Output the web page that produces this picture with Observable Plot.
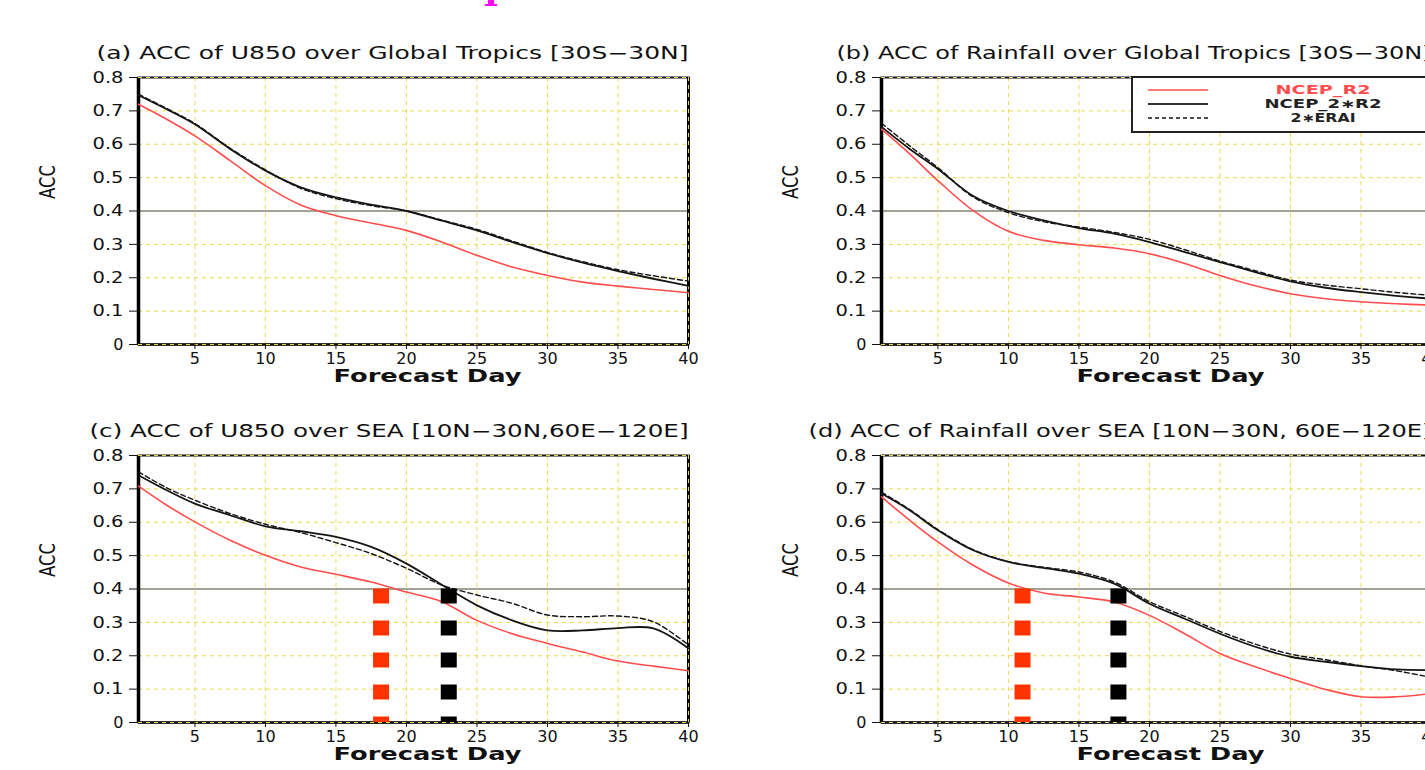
<!DOCTYPE html>
<html><head><meta charset="utf-8">
<script src="https://cdn.jsdelivr.net/npm/d3@7"></script>
<script src="https://cdn.jsdelivr.net/npm/@observablehq/plot@0.6"></script>
<style>
html,body{margin:0;padding:0;background:#fff;width:1425px;height:770px;overflow:hidden;}
#wrap{position:relative;width:1425px;height:770px;overflow:hidden;font-family:"DejaVu Sans",sans-serif;}
#wrap > svg, #wrap > div{position:absolute;}
</style></head><body><div id="wrap"></div>
<script>
// ---- data ----
const days = [1, 3, 5, 7.5, 10, 12.5, 15, 17.5, 20, 22.5, 25, 27.5, 30, 32.5, 35, 37.5, 40];
const seriesNames = ["NCEP_R2", "NCEP_2∗R2", "2∗ERAI"];
const xTicks = [5, 10, 15, 20, 25, 30, 35, 40];
const yTicks = [0, 0.1, 0.2, 0.3, 0.4, 0.5, 0.6, 0.7, 0.8];
const threshold = 0.4;

// (a) U850 global tropics
const aR2   = [0.720, 0.675, 0.625, 0.551, 0.476, 0.418, 0.386, 0.364, 0.342, 0.307, 0.267, 0.232, 0.207, 0.187, 0.175, 0.165, 0.155];
const aN2R2 = [0.747, 0.705, 0.660, 0.586, 0.521, 0.471, 0.441, 0.419, 0.400, 0.371, 0.342, 0.307, 0.274, 0.245, 0.220, 0.197, 0.176];
const aERAI = [0.750, 0.707, 0.662, 0.588, 0.523, 0.468, 0.437, 0.416, 0.400, 0.373, 0.345, 0.310, 0.276, 0.248, 0.224, 0.206, 0.190];
// (b) Rainfall global tropics
const bR2   = [0.645, 0.571, 0.491, 0.401, 0.339, 0.312, 0.299, 0.289, 0.272, 0.243, 0.207, 0.176, 0.152, 0.137, 0.128, 0.122, 0.118];
const bN2R2 = [0.652, 0.586, 0.526, 0.445, 0.400, 0.372, 0.349, 0.332, 0.307, 0.277, 0.247, 0.217, 0.189, 0.170, 0.157, 0.146, 0.137];
const bERAI = [0.663, 0.595, 0.530, 0.442, 0.395, 0.368, 0.352, 0.336, 0.315, 0.284, 0.250, 0.221, 0.193, 0.178, 0.167, 0.156, 0.147];
// (c) U850 SEA
const cR2   = [0.708, 0.651, 0.601, 0.546, 0.501, 0.466, 0.444, 0.421, 0.391, 0.362, 0.306, 0.266, 0.237, 0.211, 0.184, 0.169, 0.155];
const cN2R2 = [0.741, 0.696, 0.656, 0.621, 0.588, 0.573, 0.556, 0.526, 0.476, 0.413, 0.351, 0.306, 0.276, 0.276, 0.283, 0.282, 0.222];
const cERAI = [0.751, 0.703, 0.666, 0.626, 0.594, 0.569, 0.539, 0.506, 0.462, 0.412, 0.382, 0.357, 0.322, 0.317, 0.319, 0.302, 0.232];
// (d) Rainfall SEA
const dR2   = [0.676, 0.606, 0.541, 0.471, 0.418, 0.388, 0.376, 0.361, 0.321, 0.266, 0.207, 0.167, 0.132, 0.099, 0.077, 0.077, 0.087];
const dN2R2 = [0.686, 0.636, 0.576, 0.516, 0.481, 0.463, 0.446, 0.416, 0.356, 0.311, 0.266, 0.227, 0.197, 0.182, 0.169, 0.159, 0.157];
const dERAI = [0.690, 0.638, 0.578, 0.518, 0.482, 0.465, 0.451, 0.421, 0.362, 0.318, 0.273, 0.235, 0.205, 0.188, 0.170, 0.155, 0.135];

// threshold-crossing markers (forecast day)
const cMarkerDays = [18.2, 23];
const dMarkerDays = [11, 17.8];

const titles = [
  "(a) ACC of U850 over Global Tropics [30S−30N]",
  "(b) ACC of Rainfall over Global Tropics [30S−30N]",
  "(c) ACC of U850 over SEA [10N−30N,60E−120E]",
  "(d) ACC of Rainfall over SEA [10N−30N, 60E−120E]"
];

// ---- styles ----
const RED = "#ff4d4d", BLACK = "#151515", MARK_RED = "#ff3300";
const GRID = "#e8da4a";
const wrap = document.getElementById("wrap");

function stretch(p, content, len, adjust) {
  d3.select(p).selectAll("text")
    .filter(function() { return this.textContent === content; })
    .attr("textLength", len).attr("lengthAdjust", adjust || "spacing");
}

function panel({title, r2, n2, erai, markers, left, topPx, height, mb, titleLen}) {
  const rows = [];
  days.forEach((d, i) => {
    rows.push({day: d, acc: r2[i], s: seriesNames[0]});
    rows.push({day: d, acc: n2[i], s: seriesNames[1]});
    rows.push({day: d, acc: erai[i], s: seriesNames[2]});
  });
  const marks = [
    Plot.gridX([...xTicks], {stroke: GRID, strokeOpacity: 1, strokeDasharray: "4,4", strokeWidth: 1}),
    Plot.gridY(yTicks.filter(v => v > 0), {stroke: GRID, strokeOpacity: 1, strokeDasharray: "4,4", strokeWidth: 1}),
    Plot.ruleY([threshold], {stroke: "#a3a394", strokeWidth: 2}),
    Plot.frame({stroke: "#111", strokeWidth: 2}),
    Plot.ruleX([1], {stroke: "#000", strokeWidth: 3.5}),
    Plot.ruleX([40], {stroke: "#000", strokeWidth: 3}),
    Plot.ruleY([0], {stroke: "#111", strokeWidth: 2.5}),
    Plot.gridX([40], {stroke: GRID, strokeOpacity: 1, strokeDasharray: "4,4", strokeWidth: 1}),
    Plot.gridY([0.8, 0], {stroke: GRID, strokeOpacity: 1, strokeDasharray: "4,4", strokeWidth: 1}),
    Plot.line(rows.filter(r => r.s === seriesNames[2]), {x: "day", y: "acc", stroke: BLACK, strokeWidth: 1.4, strokeDasharray: "5,3", curve: "catmull-rom"}),
    Plot.line(rows.filter(r => r.s === seriesNames[1]), {x: "day", y: "acc", stroke: BLACK, strokeWidth: 1.8, curve: "catmull-rom"}),
    Plot.line(rows.filter(r => r.s === seriesNames[0]), {x: "day", y: "acc", stroke: RED, strokeWidth: 1.6, curve: "catmull-rom"}),
  ];
  if (markers) {
    marks.push(Plot.ruleX(markers.map((d, i) => ({day: d, k: i})), {
      x: "day", y1: threshold, y2: 0,
      stroke: d => d.k === 0 ? MARK_RED : "#000", strokeWidth: 16, strokeDasharray: "15,17"
    }));
  }
  marks.push(
    Plot.axisY(yTicks, {anchor: "left", tickSize: 9, tickPadding: 6, fontSize: 16, stroke: "#111",
      tickFormat: v => v === 0 ? "0" : v.toFixed(1), label: null}),
    Plot.axisX(xTicks, {anchor: "bottom", tickSize: 5, tickPadding: 3, fontSize: 16, stroke: "#111", label: null}),
    Plot.text([title], {text: d => d, frameAnchor: "top-right", dy: -24, textAnchor: "end", lineAnchor: "middle", fontSize: 17, fill: "#111"}),
    Plot.text(["Forecast Day"], {text: d => d, frameAnchor: "bottom", dy: 32, dx: 14, lineAnchor: "middle", fontSize: 18, fontWeight: "bold", fill: "#111"}),
    Plot.text(["ACC"], {text: d => d, frameAnchor: "left", dx: -90, dy: -12, rotate: -90, lineAnchor: "middle", fontSize: 21, fill: "#111"})
  );
  const p = Plot.plot({
    width: 712, height,
    marginLeft: 138, marginRight: 24, marginTop: 77, marginBottom: mb,
    x: {domain: [1, 40]},
    y: {domain: [0, 0.8]},
    style: {background: "transparent", overflow: "visible", fontFamily: "DejaVu Sans, sans-serif", color: "#111"},
    marks
  });
  p.style.left = left + "px";
  p.style.top = topPx + "px";
  p.style.maxWidth = "none";
  stretch(p, title, titleLen, "spacingAndGlyphs");
  stretch(p, "Forecast Day", 188, "spacingAndGlyphs");
  stretch(p, "ACC", 34, "spacingAndGlyphs");
  yTicks.forEach(v => { if (v > 0) stretch(p, v.toFixed(1), 31, "spacingAndGlyphs"); });
  wrap.appendChild(p);
}

panel({title: titles[0], r2: aR2, n2: aN2R2, erai: aERAI, left: 0,   topPx: 0,   height: 390, mb: 46, titleLen: 592});
panel({title: titles[1], r2: bR2, n2: bN2R2, erai: bERAI, left: 743, topPx: 0,   height: 390, mb: 46, titleLen: 595});
panel({title: titles[2], r2: cR2, n2: cN2R2, erai: cERAI, markers: cMarkerDays, left: 0,   topPx: 378, height: 392, mb: 48, titleLen: 599});
panel({title: titles[3], r2: dR2, n2: dN2R2, erai: dERAI, markers: dMarkerDays, left: 743, topPx: 378, height: 392, mb: 48, titleLen: 623});

// ---- legend (panel b) ----
const lg = d3.select(wrap).append("svg")
  .attr("width", 300).attr("height", 58)
  .style("left", "1131px").style("top", "76px");
lg.append("rect").attr("x", 1).attr("y", 1).attr("width", 320).attr("height", 55)
  .attr("fill", "#fff").attr("stroke", "#222").attr("stroke-width", 2);
const legendRows = [
  {name: seriesNames[0], color: RED, dash: null, w: 1.6, len: 95},
  {name: seriesNames[1], color: "#333", dash: null, w: 2, len: 117},
  {name: seriesNames[2], color: "#111", dash: "4,3", w: 1.3, len: 65}
];
legendRows.forEach((r, i) => {
  const y = 14 + i * 14;
  lg.append("line").attr("x1", 17).attr("x2", 77).attr("y1", y).attr("y2", y)
    .attr("stroke", r.color).attr("stroke-width", r.w).attr("stroke-dasharray", r.dash);
  lg.append("text").attr("x", 192).attr("y", y).attr("dy", "0.35em")
    .attr("text-anchor", "middle").attr("font-size", 12).attr("font-weight", "bold").attr("font-family", "DejaVu Sans")
    .attr("fill", i === 0 ? RED : "#222")
    .attr("textLength", r.len).attr("lengthAdjust", "spacingAndGlyphs")
    .text(r.name);
});

// ---- stray magenta glyph at top edge ----
const glyph = d3.select(wrap).append("svg").attr("width", 60).attr("height", 12)
  .style("left", "461px").style("top", "0px");
glyph.append("text").attr("x", 30).attr("y", 6).attr("text-anchor", "middle")
  .attr("font-size", 32).attr("font-family", "DejaVu Serif").attr("font-weight", "bold")
  .attr("fill", "#ff00ff").text("I");
</script></body></html>
